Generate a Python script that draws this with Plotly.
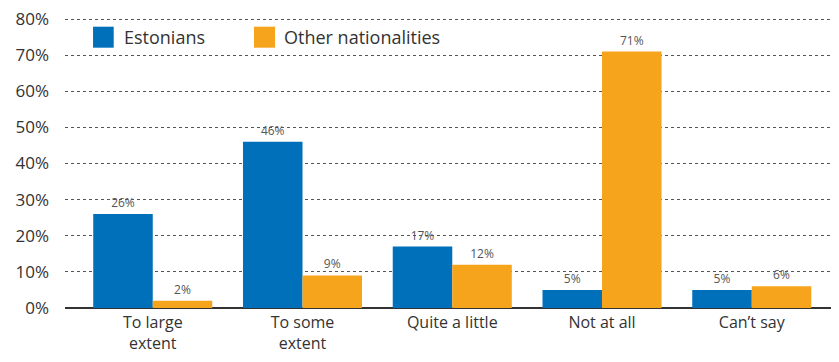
import plotly.graph_objects as go

categories = ["To large<br>extent", "To some<br>extent", "Quite a little", "Not at all", "Can\u2019t say"]
series_names = ["Estonians", "Other nationalities"]
estonians = [26, 46, 17, 5, 5]
other = [2, 9, 12, 71, 6]
y_ticks = [0, 10, 20, 30, 40, 50, 60, 70, 80]
y_tick_labels = [f"{v}%" for v in y_ticks]

BLUE = "#0070BA"
ORANGE = "#F7A41D"
FONT = "Open Sans"
TXT = "#333333"

fig = go.Figure()
for name, vals, col in [(series_names[0], estonians, BLUE), (series_names[1], other, ORANGE)]:
    fig.add_trace(go.Bar(
        name=name, x=list(range(len(categories))), y=vals,
        marker=dict(color=col, line=dict(width=0)),
        text=[f"{v}%" for v in vals], textposition="outside",
        textfont=dict(size=12, color="#555555", family=FONT), cliponaxis=False,
        showlegend=False,
    ))

# legend drawn as squares + text (paper coordinates)
leg = [(series_names[0], BLUE, 0.0366, 0.0636, 0.0757),
       (series_names[1], ORANGE, 0.2467, 0.2742, 0.2846)]
for name, col, x0, x1, xt in leg:
    fig.add_shape(type="rect", xref="paper", yref="paper", x0=x0, x1=x1,
                  y0=0.8976, y1=0.9700, fillcolor=col, line=dict(width=0))
    fig.add_annotation(xref="paper", yref="paper", x=xt, y=0.9345, xanchor="left",
                       yanchor="middle", text=name, showarrow=False,
                       font=dict(size=18, color=TXT, family=FONT), borderpad=0)

fig.update_layout(
    width=823, height=346,
    margin=dict(l=57, r=0, t=10, b=46, autoexpand=False),
    paper_bgcolor="white", plot_bgcolor="white",
    barmode="group", bargap=0.205, bargroupgap=0,
    font=dict(family=FONT, color=TXT),
    xaxis=dict(
        tickmode="array", tickvals=list(range(len(categories))), ticktext=categories,
        range=[-0.586, 4.529], showgrid=False, zeroline=False,
        showline=False, ticks="", tickfont=dict(size=16, color=TXT, family=FONT),
        ticklabelstandoff=3, automargin=False,
    ),
    yaxis=dict(
        range=[0, 80.28], tickmode="array", tickvals=y_ticks, ticktext=y_tick_labels,
        showgrid=True, gridcolor="#555555", gridwidth=1, griddash="dot",
        zeroline=True, zerolinecolor="#333333", zerolinewidth=2,
        tickfont=dict(size=17, color=TXT, family=FONT), ticks="", ticklabelstandoff=15,
        ticklabeloverflow="allow", automargin=False,
    ),
)

fig.write_html("out.html")
